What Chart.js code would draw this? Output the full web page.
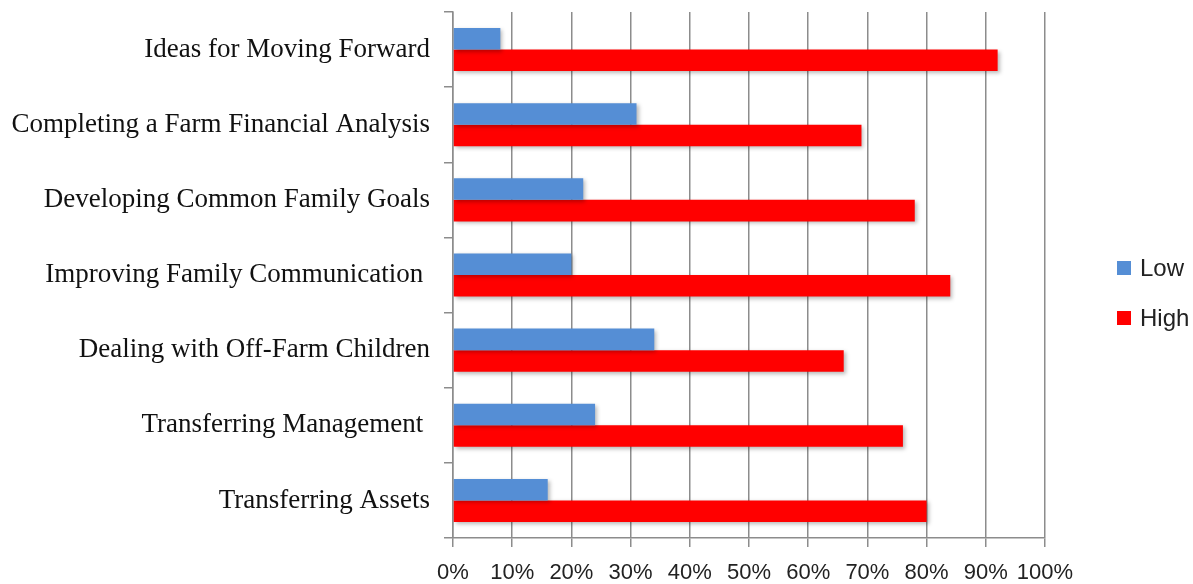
<!DOCTYPE html>
<html>
<head>
<meta charset="utf-8">
<script src="https://cdn.jsdelivr.net/npm/chart.js@4/dist/chart.umd.min.js"></script>
<style>
  html, body { margin: 0; padding: 0; background: #fff; }
  #wrap { width: 1193px; height: 584px; position: relative; }
  #legend { position: absolute; left: 1117px; top: 254px; font-family: 'Liberation Sans', sans-serif; font-size: 24px; color: #222; }
  #legend div { height: 50px; line-height: 28px; white-space: nowrap; }
  #legend span.box { display: inline-block; width: 14px; height: 14px; margin-right: 9px; vertical-align: 1px; }
</style>
</head>
<body>
<div id="wrap"><canvas id="chart"></canvas><div id="legend"></div></div>
<script>
// categories top to bottom
const categories = [
    'Ideas for Moving Forward',
    'Completing a Farm Financial Analysis',
    'Developing Common Family Goals',
    'Improving Family Communication ',
    'Dealing with Off-Farm Children',
    'Transferring Management ',
    'Transferring Assets'
];
const lowValues = [8, 31, 22, 20, 34, 24, 16];
const highValues = [92, 69, 78, 84, 66, 76, 80];
const xTicks = [0, 10, 20, 30, 40, 50, 60, 70, 80, 90, 100];

const gridGray = '#8c8c8c';

// soft drop shadow under bars, like the office chart
const barShadow = {
    id: 'barShadow',
    beforeDatasetsDraw(chart) {
        const ctx = chart.ctx;
        ctx.save();
        ctx.shadowColor = 'rgba(0,0,0,0.28)';
        ctx.shadowBlur = 4;
        ctx.shadowOffsetX = 2;
        ctx.shadowOffsetY = 2;
    },
    afterDatasetsDraw(chart) {
        chart.ctx.restore();
    }
};

const chart = new Chart(document.getElementById('chart'), {
    type: 'bar',
    data: {
        labels: categories,
        datasets: [{
            label: 'Low',
            data: lowValues,
            backgroundColor: '#558ed5',
            categoryPercentage: 0.573,
            barPercentage: 1.0
        }, {
            label: 'High',
            data: highValues,
            backgroundColor: '#ff0000',
            categoryPercentage: 0.573,
            barPercentage: 1.0
        }]
    },
    options: {
        indexAxis: 'y',
        responsive: true,
        maintainAspectRatio: false,
        animation: false,
        layout: { padding: { top: 12, right: 148, left: 0, bottom: 0 } },
        plugins: {
            tooltip: { enabled: false },
            legend: { display: false }
        },
        scales: {
            x: {
                min: 0,
                max: 100,
                afterBuildTicks(axis) {
                    axis.ticks = xTicks.map(v => ({ value: v }));
                },
                afterFit(axis) {
                    axis.height = 46;
                },
                ticks: {
                    callback: v => v + '%',
                    color: '#222',
                    padding: 13,
                    autoSkip: false,
                    maxRotation: 0,
                    font: { family: 'Liberation Sans', size: 22 }
                },
                grid: {
                    color: gridGray,
                    lineWidth: 1.5,
                    tickLength: 9
                },
                border: { color: gridGray, width: 1.5 }
            },
            y: {
                afterFit(axis) {
                    axis.width = 453;
                    axis.paddingTop = 0;
                    axis.paddingBottom = 0;
                },
                ticks: {
                    color: '#111',
                    padding: 14,
                    autoSkip: false,
                    font: { family: 'Liberation Serif', size: 27 }
                },
                grid: {
                    offset: true,
                    drawOnChartArea: false,
                    color: gridGray,
                    lineWidth: 1.5,
                    tickLength: 9
                },
                border: { color: gridGray, width: 1.5 }
            }
        }
    },
    plugins: [barShadow]
});

// legend built from the datasets
document.getElementById('legend').innerHTML = chart.data.datasets.map(ds => `
    <div><span class="box" style="background:${ds.backgroundColor}"></span>${ds.label}</div>
`).join('');
</script>
</body>
</html>
